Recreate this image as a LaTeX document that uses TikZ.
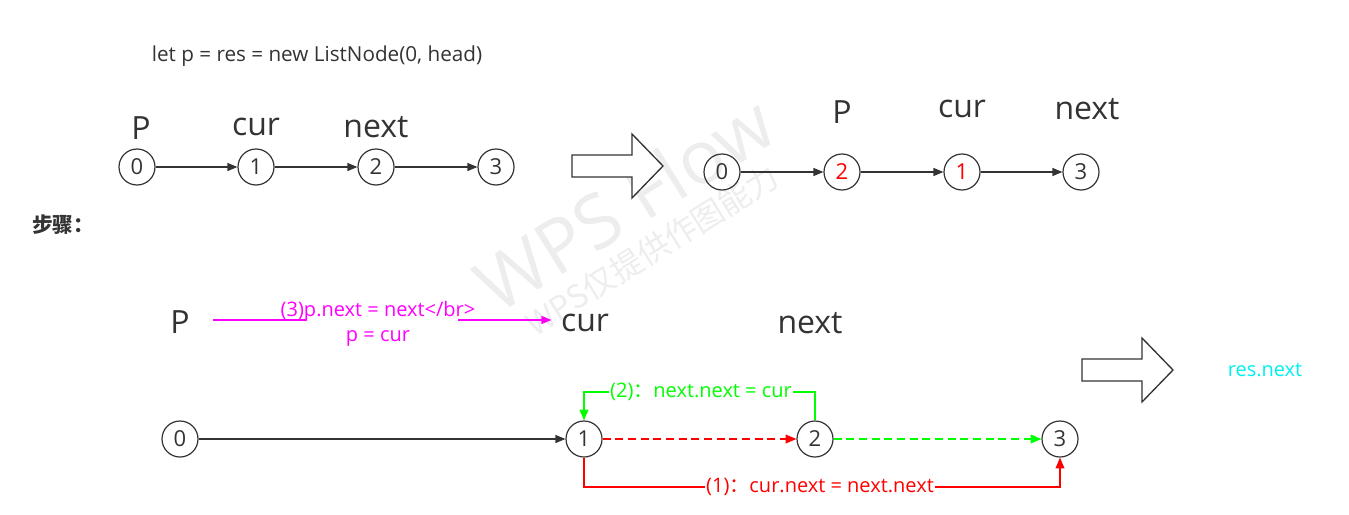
\documentclass[tikz,border=0pt]{standalone}
\usepackage{fontspec}
\setmainfont{Open Sans}
\newfontfamily\cjk{Noto Sans CJK SC}
\usetikzlibrary{arrows.meta}
\definecolor{ink}{HTML}{333333}
\definecolor{wmark}{HTML}{EDEDED}
\definecolor{mgreen}{HTML}{00FF00}
\definecolor{mred}{HTML}{FF0000}
\definecolor{mmag}{HTML}{FF00FF}
\definecolor{mcyan}{HTML}{00F0F0}
\tikzset{
  lnode/.style={circle,draw=ink,line width=0.9pt,minimum size=27pt,inner sep=0pt,text=ink,font=\fontsize{16.5}{18}\selectfont},
  rnode/.style={lnode,text=mred},
  bigtxt/.style={text=ink,font=\fontsize{24}{26}\selectfont,inner sep=0pt},
  link/.style={draw=ink,line width=0.9pt,-{Triangle[length=7.5pt,width=6pt]}},
  steplbl/.style={font=\fontsize{15}{17}\selectfont,fill=white,inner sep=1pt},
  hollow/.style={draw=ink,line width=1pt,fill=white,line join=miter},
}
\begin{document}
\begin{tikzpicture}[x=0.75pt,y=-0.75pt]
\useasboundingbox (0,0) rectangle (1349,514);
% watermark
\node[rotate=32,text=wmark,font=\fontsize{56}{58}\selectfont] (wm1) at (624,203) {WPS Flow};
\node[rotate=32,text=wmark,font=\cjk\fontsize{24}{26}\selectfont] (wm2) at (652,250) {WPS仅提供作图能力};

% top code line
\node[text=ink,font=\fontsize{15.5}{17}\selectfont] (code) at (317,56) {let p = res = new ListNode(0, head)};

% top-left list
\node[lnode] (a0) at (137,167) {0};
\node[lnode] (a1) at (256,167) {1};
\node[lnode] (a2) at (376,167) {2};
\node[lnode] (a3) at (496,167) {3};
\draw[link] (a0) -- (a1);
\draw[link] (a1) -- (a2);
\draw[link] (a2) -- (a3);
\node[bigtxt] (aP) at (141,128) {P};
\node[bigtxt] (aC) at (256,127) {cur};
\node[bigtxt] (aN) at (376,127) {next};

% hollow arrow 1
\draw[hollow] (572,155) -- (632,155) -- (632,134) -- (663,166) -- (632,198) -- (632,177) -- (572,177) -- cycle;

% top-right list
\node[lnode] (b0) at (722,172) {0};
\node[rnode] (b2) at (842,172) {2};
\node[rnode] (b1) at (962,172) {1};
\node[lnode] (b3) at (1081,172) {3};
\draw[link] (b0) -- (b2);
\draw[link] (b2) -- (b1);
\draw[link] (b1) -- (b3);
\node[bigtxt] (bP) at (842,112) {P};
\node[bigtxt] (bC) at (962,109) {cur};
\node[bigtxt] (bN) at (1087,109) {next};

% steps title
\node[text=ink,font=\cjk\bfseries\fontsize{15.5}{17}\selectfont] (steps) at (63,225) {步骤：};

% bottom labels
\node[bigtxt] (cP) at (180,322) {P};
\node[bigtxt] (cC) at (585,323) {cur};
\node[bigtxt] (cN) at (810,323) {next};
\coordinate (ms) at (213,320);
\draw[draw=mmag,line width=0.9pt,-{Triangle[length=7.5pt,width=6pt]}] (ms) -- ([xshift=-7pt]cC.west |- ms);
\node[fill=white,minimum width=114pt,minimum height=6pt,inner sep=0pt] (gap) at (381.5,320) {};
\node[text=mmag,font=\fontsize{15}{19}\selectfont,align=center,inner sep=0pt] (lab3) at (378,324) {(3)p.next = next</br>\\p = cur};

% hollow arrow 2
\draw[hollow] (1082,359) -- (1142,359) -- (1142,338) -- (1173,370) -- (1142,402) -- (1142,381) -- (1082,381) -- cycle;
\node[text=mcyan,font=\fontsize{15}{17}\selectfont] (resn) at (1265,370) {res.next};

% bottom list
\node[lnode] (c0) at (180,439) {0};
\node[lnode] (c1) at (584,439) {1};
\node[lnode] (c2) at (815,439) {2};
\node[lnode] (c3) at (1060,439) {3};
\draw[link] (c0) -- (c1);
\draw[draw=mred,line width=0.9pt,dash pattern=on 6pt off 3.5pt,-{Triangle[length=8pt,width=6.5pt]}] (c1) -- (c2);
\draw[draw=mgreen,line width=0.9pt,dash pattern=on 6pt off 3.5pt,-{Triangle[length=8pt,width=6.5pt]}] (c2) -- (c3);
\coordinate (gtop) at (701,392);
\draw[draw=mgreen,line width=0.9pt,-{Triangle[length=8pt,width=6.5pt]}] (c2.north) |- (gtop) -| (c1.north);
\node[steplbl,text=mgreen] (lab2) at (gtop) {(2){\cjk ：}next.next = cur};
\coordinate (rbot) at (820,487);
\draw[draw=mred,line width=0.9pt,-{Triangle[length=8pt,width=6.5pt]}] (c1.south) |- (rbot) -| (c3.south);
\node[steplbl,text=mred] (lab1) at (rbot) {(1){\cjk ：}cur.next = next.next};
\end{tikzpicture}
\end{document}
